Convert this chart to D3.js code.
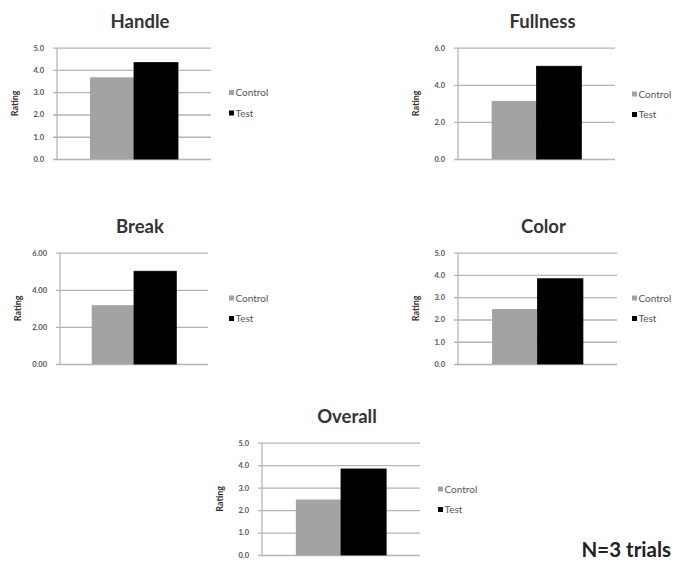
<!DOCTYPE html>
<html>
<head>
<meta charset="utf-8">
<script src="https://cdn.jsdelivr.net/npm/d3@7"></script>
<style>
  html, body { margin: 0; padding: 0; background: #fff; }
  svg { display: block; }
  text { font-family: Lato, "Open Sans", "Liberation Sans", sans-serif; }
</style>
</head>
<body>
<svg id="chart" width="677" height="562"></svg>
<script>
// Sensory ratings, Control vs Test, one small bar chart per attribute
const series = ["Control", "Test"];
const attributes = ["Handle", "Fullness", "Break", "Color", "Overall"];
const handleValues   = [3.67, 4.33];
const fullnessValues = [3.13, 5.00];
const breakValues    = [3.17, 5.00];
const colorValues    = [2.47, 3.83];
const overallValues  = [2.47, 3.83];
const handleTicks   = [0, 1, 2, 3, 4, 5];
const fullnessTicks = [0, 2, 4, 6];
const breakTicks    = [0, 2, 4, 6];
const colorTicks    = [0, 1, 2, 3, 4, 5];
const overallTicks  = [0, 1, 2, 3, 4, 5];
const yLabel = "Rating";
const footnote = "N=3 trials";

const seriesColor = { Control: "#a3a3a3", Test: "#000000" };

// Layout of each panel: plot box, tick format and legend anchor
const panels = [
  { name: "Handle",   values: handleValues,   ticks: handleTicks,   fmt: ".1f",
    left: 57,  right: 211, top: 47.7,  bottom: 159, legendX: 229, legendY: 92.5 },
  { name: "Fullness", values: fullnessValues, ticks: fullnessTicks, fmt: ".1f",
    left: 458, right: 615, top: 47.7,  bottom: 159, legendX: 632, legendY: 94 },
  { name: "Break",    values: breakValues,    ticks: breakTicks,    fmt: ".2f",
    left: 60,  right: 208, top: 252.7, bottom: 364, legendX: 229, legendY: 298 },
  { name: "Color",    values: colorValues,    ticks: colorTicks,    fmt: ".1f",
    left: 458, right: 617, top: 252.7, bottom: 364, legendX: 632, legendY: 298 },
  { name: "Overall",  values: overallValues,  ticks: overallTicks,  fmt: ".1f",
    left: 262, right: 420, top: 442.7, bottom: 555, legendX: 438, legendY: 489 }
];

const svg = d3.select("#chart");

panels.forEach(p => {
  const g = svg.append("g");
  const y = d3.scaleLinear()
    .domain([0, d3.max(p.ticks)])
    .range([p.bottom, p.top]);
  const xCat = d3.scaleBand()
    .domain([p.name])
    .range([p.left, p.right])
    .paddingInner(0)
    .paddingOuter(0.375);
  const xSer = d3.scaleBand()
    .domain(series)
    .range([xCat(p.name), xCat(p.name) + xCat.bandwidth()])
    .padding(0);

  // horizontal gridlines with short outward ticks
  const axis = d3.axisLeft(y)
    .tickValues(p.ticks)
    .tickFormat(d3.format(p.fmt))
    .tickSizeInner(-(p.right - p.left))
    .tickSizeOuter(0)
    .tickPadding(13);
  const ag = g.append("g")
    .attr("transform", `translate(${p.left},0)`)
    .call(axis);
  ag.select(".domain").remove();
  ag.selectAll(".tick line")
    .attr("x1", -4)
    .attr("stroke", "#b5b5b5")
    .attr("stroke-width", 1.3);
  ag.selectAll(".tick text")
    .attr("fill", "#555")
    .attr("font-size", 7.5)
    .attr("font-weight", "bold");

  // left axis line
  g.append("line")
    .attr("x1", p.left).attr("x2", p.left)
    .attr("y1", p.top).attr("y2", p.bottom)
    .attr("stroke", "#b5b5b5")
    .attr("stroke-width", 1.3);

  // bars
  g.selectAll("rect.bar")
    .data(series.map((s, i) => ({ s, v: p.values[i] })))
    .join("rect")
    .attr("class", "bar")
    .attr("x", d => xSer(d.s))
    .attr("width", xSer.bandwidth())
    .attr("y", d => y(d.v))
    .attr("height", d => y(0) - y(d.v))
    .attr("fill", d => seriesColor[d.s])
    .attr("stroke", "#000")
    .attr("stroke-width", d => d.s === "Test" ? 0.8 : 0);

  // title
  g.append("text")
    .attr("x", (p.left + p.right) / 2 + 6)
    .attr("y", p.top - 20)
    .attr("text-anchor", "middle")
    .attr("font-size", 18.5)
    .attr("font-weight", "bold")
    .attr("fill", "#333")
    .text(p.name);

  // y-axis title
  const labelX = p.left - 42;
  const labelY = (p.top + p.bottom) / 2;
  g.append("text")
    .attr("transform", `translate(${labelX},${labelY}) rotate(-90)`)
    .attr("text-anchor", "middle")
    .attr("dy", "0.35em")
    .attr("font-size", 9)
    .attr("font-weight", "bold")
    .attr("fill", "#333")
    .text(yLabel);

  // legend
  const lg = g.append("g")
    .attr("transform", `translate(${p.legendX},${p.legendY})`);
  const items = lg.selectAll("g")
    .data(series)
    .join("g")
    .attr("transform", (d, i) => `translate(0,${i * 20.5})`);
  items.append("rect")
    .attr("x", 0).attr("y", -2.5)
    .attr("width", 5).attr("height", 5)
    .attr("fill", d => seriesColor[d]);
  items.append("text")
    .attr("x", 6.5)
    .attr("dy", "0.35em")
    .attr("font-size", 10)
    .attr("fill", "#555")
    .text(d => d);
});

svg.append("text")
  .attr("x", 671)
  .attr("y", 557)
  .attr("text-anchor", "end")
  .attr("font-size", 20.5)
  .attr("font-weight", "bold")
  .attr("fill", "#222")
  .text(footnote);
</script>
</body>
</html>
